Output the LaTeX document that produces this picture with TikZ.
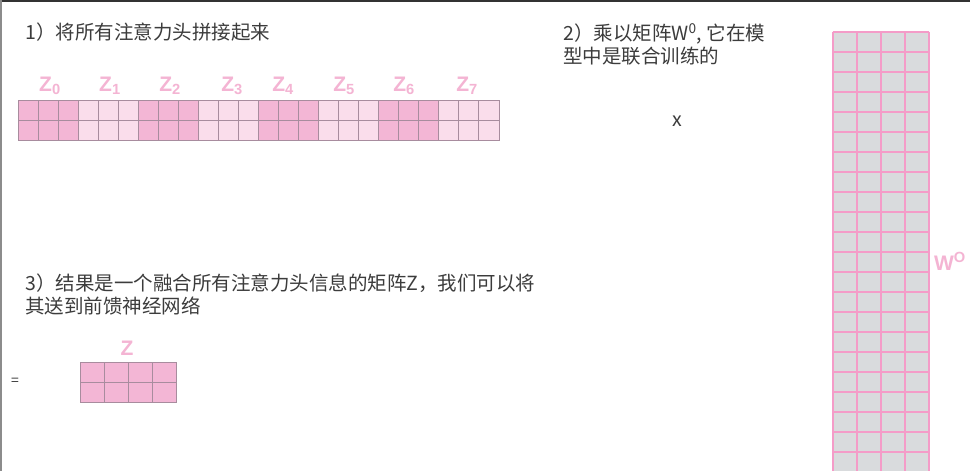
\documentclass[tikz,border=0pt]{standalone}
\usepackage{fontspec}
\setmainfont{Noto Sans CJK SC}
\newfontfamily\lab{Liberation Sans}
\definecolor{pdark}{HTML}{F3B6D5}
\definecolor{plight}{HTML}{FADDEB}
\definecolor{gridm}{HTML}{A88C9E}
\definecolor{plab}{HTML}{F4B4D3}
\definecolor{wgray}{HTML}{D9DBDD}
\definecolor{wline}{HTML}{F49CC8}
\definecolor{txt}{HTML}{3C3C3C}
\tikzset{
  cell/.style={draw=gridm, line width=0.9pt},
  wgrid/.style={draw=wline, line width=1.8pt},
  zlab/.style={text=plab, inner sep=0pt, font=\lab\bfseries\fontsize{21}{21}\selectfont},
  para/.style={text=txt, inner sep=0pt, anchor=north west, align=left, font=\fontsize{19.5}{23}\selectfont},
}
\begin{document}
\begin{tikzpicture}[x=1pt,y=-1pt]
\useasboundingbox (0,0) rectangle (970,471);
\fill[white] (0,0) rectangle (970,471);
\draw[line width=2pt, draw=black!80] (0,1) -- (970,1);
\draw[line width=1.5pt, draw=black!45] (0.75,0) -- (0.75,471);

% texts
\node[para] (t1) at (25,23) {1）将所有注意力头拼接起来};
\node[para] (t2) at (563,23) {2）乘以矩阵W\textsuperscript{0}, 它在模\\型中是联合训练的};
\node[para] (t3) at (25,273.5) {3）结果是一个融合所有注意力头信息的矩阵Z，我们可以将\\其送到前馈神经网络};
\node[text=txt, inner sep=0pt, font=\fontsize{19.5}{20}\selectfont] (times) at (677,121) {x};
\node[text=txt, inner sep=0pt, font=\fontsize{14}{14}\selectfont] (eq) at (15,382) {=};

% concatenated matrix
\foreach \g/\c in {0/pdark,1/plight,2/pdark,3/plight,4/pdark,5/plight,6/pdark,7/plight}{
  \foreach \i in {0,1,2}{
    \foreach \j in {0,1}{
      \filldraw[cell, fill=\c] ({18+(\g*3+\i)*20.04},{100+\j*20}) rectangle ++(20.04,20);
    }
  }
}
\foreach \k/\x in {0/50,1/110,2/170,3/232,4/283,5/344,6/404,7/467}{
  \node[zlab, anchor=base] (z\k) at (\x,91) {Z\textsubscript{\k}};
}

% W^O matrix
\fill[wgray] (832.7,31.7) rectangle (929.3,492);
\foreach \r in {0,...,23}{
  \draw[wgrid] (832.7,{31.7+\r*20}) -- (929.3,{31.7+\r*20});
}
\foreach \c in {0,...,4}{
  \draw[wgrid] ({832.7+\c*24.15},31.7) -- ({832.7+\c*24.15},492);
}
\node[zlab, anchor=base, font=\lab\bfseries\fontsize{21}{21}\selectfont] (wo) at (950,270) {W\textsuperscript{O}};

% Z matrix
\foreach \i in {0,...,3}{
  \foreach \j in {0,1}{
    \filldraw[cell, fill=pdark] ({80+\i*24},{362+\j*20}) rectangle ++(24,20);
  }
}
\node[zlab, anchor=base] (zz) at (127,355) {Z};
\end{tikzpicture}
\end{document}
